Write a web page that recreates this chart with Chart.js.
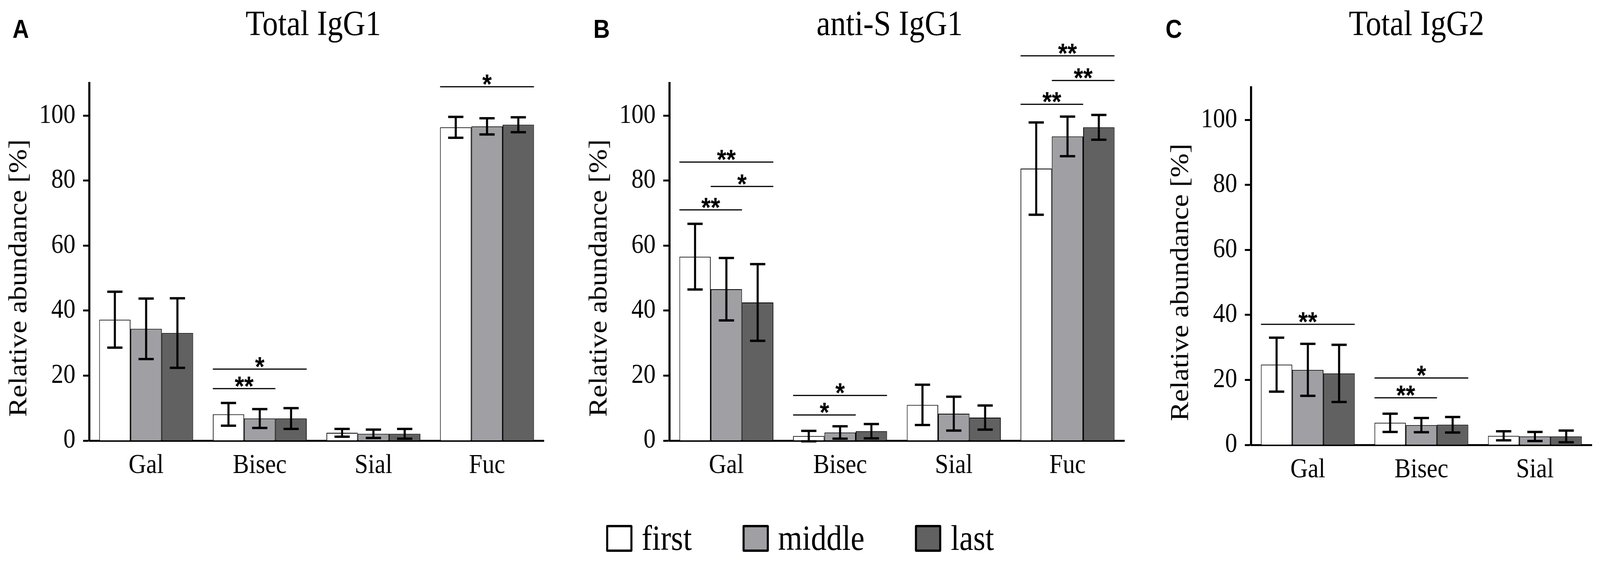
<!DOCTYPE html>
<html lang="en">
<head>
<meta charset="UTF-8">
<title>IgG Fc glycosylation – first / middle / last sample</title>
<style>
  *, *::before, *::after { box-sizing: border-box; margin: 0; padding: 0; }
  html, body { background: #fff; overflow: hidden; }
  #fig { width: 4622px; height: 1440px; position: absolute; left: 0; top: 0; transform-origin: 0 0;
         font-family: "Liberation Serif", "Times New Roman", serif; color: #000; }
  .letter { position: absolute; top: 41px; font: bold 66px/1 "Liberation Sans", Arial, sans-serif; }
  .ttl { position: absolute; top: 15px; font-size: 90px; line-height: 1; transform: translateX(-50%); white-space: nowrap; }
  canvas { position: absolute; top: 0; display: block; }
  .legend { position: absolute; top: 1334px; left: 0; width: 100%; height: 90px; display: flex;
            justify-content: center; align-items: center; font-size: 90px; line-height: 1; }
  .li { display: flex; align-items: center; gap: 27px; margin: 0 73px; }
  .sw { width: 76px; height: 69px; border: 6px solid #000; border-radius: 4px; }
</style>
</head>
<body>
<div id="fig">
  <div class="letter" style="left:36px">A</div>
  <div class="ttl" style="left:905px">Total IgG1</div>
  <canvas id="cA" width="1600" height="1290" style="left:0"></canvas>

  <div class="letter" style="left:1714px">B</div>
  <div class="ttl" style="left:2570px">anti-S IgG1</div>
  <canvas id="cB" width="1624" height="1290" style="left:1676px"></canvas>

  <div class="letter" style="left:3367px">C</div>
  <div class="ttl" style="left:4092px">Total IgG2</div>
  <canvas id="cC" width="1266" height="1301" style="left:3356px"></canvas>

  <div class="legend" id="legend"></div>
</div>

<script src="https://cdnjs.cloudflare.com/ajax/libs/Chart.js/4.4.1/chart.umd.js"></script>
<script>
const groups = ['first', 'middle', 'last'];
const fills  = ['#ffffff', '#a0a0a4', '#616161'];
const yTicks = [0, 20, 40, 60, 80, 100];
const yLabel = 'Relative abundance [%]';

const igg1Cats = ['Gal', 'Bisec', 'Sial', 'Fuc'];
const igg2Cats = ['Gal', 'Bisec', 'Sial'];

// mean and SD, one row per group (first, middle, last)
const totalG1Mean = [[37.2, 8.1, 2.4, 96.4], [34.4, 6.8, 2.1, 96.7], [33.1, 6.8, 2.1, 97.2]];
const totalG1Sd   = [[8.6, 3.5, 1.2, 3.2],   [9.3, 2.9, 1.3, 2.5],   [10.7, 3.2, 1.5, 2.3]];
const antiSMean   = [[56.6, 1.4, 11.0, 83.7], [46.6, 2.5, 8.3, 93.6], [42.5, 2.9, 7.1, 96.4]];
const antiSSd     = [[10.1, 1.6, 6.2, 14.2],  [9.6, 1.9, 5.2, 6.1],   [11.8, 2.2, 3.7, 3.8]];
const totalG2Mean = [[24.7, 6.8, 2.8], [23.1, 6.1, 2.6], [22.0, 6.2, 2.6]];
const totalG2Sd   = [[8.3, 2.8, 1.4],  [8.0, 2.2, 1.4],  [8.8, 2.4, 1.8]];

// significance bars: [category, from group, to group, height %, stars]
const totalG1Sig = [[1, 0, 1, 16.0, '**'], [1, 0, 2, 22.0, '*'], [3, 0, 2, 108.9, '*']];
const antiSSig   = [[0, 0, 2, 85.7, '**'], [0, 1, 2, 78.2, '*'], [0, 0, 1, 71.0, '**'],
                    [1, 0, 2, 13.9, '*'],  [1, 0, 1, 7.9, '*'],
                    [3, 0, 2, 118.4, '**'], [3, 1, 2, 110.8, '**'], [3, 0, 1, 103.5, '**']];
const totalG2Sig = [[0, 0, 2, 37.1, '**'], [1, 0, 2, 20.6, '*'], [1, 0, 1, 14.5, '**']];

// the figure is laid out at 4622x1440; stretch it onto the actual viewport
document.getElementById('fig').style.transform = `scale(${innerWidth / 4622}, ${innerHeight / 1440})`;

const serif = "'Liberation Serif', 'Times New Roman', serif";
Chart.defaults.font.family = serif;
Chart.defaults.color = '#000';

const errorBars = {
  id: 'errorBars',
  afterDatasetsDraw(chart) {
    const {ctx, scales: {y}} = chart;
    ctx.save();
    ctx.strokeStyle = '#000';
    ctx.lineWidth = 6;
    chart.data.datasets.forEach((ds, i) => {
      chart.getDatasetMeta(i).data.forEach((bar, j) => {
        const top = y.getPixelForValue(ds.data[j] + ds.sd[j]);
        const bot = y.getPixelForValue(ds.data[j] - ds.sd[j]);
        ctx.beginPath();
        ctx.moveTo(bar.x, top); ctx.lineTo(bar.x, bot);
        ctx.moveTo(bar.x - 22, top); ctx.lineTo(bar.x + 22, top);
        ctx.moveTo(bar.x - 22, bot); ctx.lineTo(bar.x + 22, bot);
        ctx.stroke();
      });
    });
    ctx.restore();
  }
};

const sigBars = {
  id: 'sigBars',
  afterDraw(chart) {
    const {ctx, scales: {y}} = chart;
    ctx.save();
    ctx.strokeStyle = '#000';
    ctx.fillStyle = '#000';
    ctx.lineWidth = 3;
    ctx.font = "bold 70px 'Liberation Sans', Arial, sans-serif";
    ctx.textAlign = 'center';
    ctx.textBaseline = 'alphabetic';
    chart.options.plugins.sigBars.rows.forEach(([c, a, b, v, txt]) => {
      const ba = chart.getDatasetMeta(a).data[c], bb = chart.getDatasetMeta(b).data[c];
      const x1 = ba.x - ba.width / 2, x2 = bb.x + bb.width / 2, py = y.getPixelForValue(v);
      ctx.beginPath(); ctx.moveTo(x1, py); ctx.lineTo(x2, py); ctx.stroke();
      ctx.fillText(txt, (x1 + x2) / 2, py + 18);
    });
    ctx.restore();
  }
};

// axis title centred on the 0-100 range rather than on the whole (0-110) axis
const yTitle = {
  id: 'yTitle',
  afterDraw(chart) {
    const {ctx, chartArea, scales: {y}} = chart;
    ctx.save();
    ctx.translate(chartArea.left - 201, y.getPixelForValue(50));
    ctx.rotate(-Math.PI / 2);
    ctx.font = "74px 'Liberation Serif', 'Times New Roman', serif";
    ctx.fillStyle = '#000';
    ctx.textAlign = 'center';
    ctx.textBaseline = 'middle';
    ctx.fillText(yLabel, 0, 0);
    ctx.restore();
  }
};

function panel(id, cats, means, sds, sig, padTop, padRight) {
  return new Chart(document.getElementById(id), {
    type: 'bar',
    data: {
      labels: cats,
      datasets: groups.map((g, i) => ({
        label: g,
        data: means[i],
        sd: sds[i],
        backgroundColor: fills[i],
        borderColor: '#000',
        borderWidth: 2,
        categoryPercentage: 0.826,
        barPercentage: 1.0
      }))
    },
    options: {
      responsive: false, animation: false,
      layout: {padding: {top: padTop, right: padRight, left: 0, bottom: 0}},
      plugins: {legend: {display: false}, tooltip: {enabled: false}, sigBars: {rows: sig}},
      scales: {
        x: {
          grid: {display: false, drawTicks: false},
          border: {color: '#000', width: 5},
          ticks: {font: {family: serif, size: 70}, color: '#000', padding: 23, autoSkip: false, maxRotation: 0},
          afterFit: s => { s.height = 161; }
        },
        y: {
          min: 0, max: 110,
          grid: {drawOnChartArea: false, tickLength: 18, tickColor: '#000', tickWidth: 5},
          border: {color: '#000', width: 6},
          ticks: {font: {family: serif, size: 70}, color: '#000', padding: 22},
          afterBuildTicks: s => { s.ticks = yTicks.map(v => ({value: v})); },
          afterFit: s => { s.width = 258; }
        }
      }
    },
    plugins: [errorBars, sigBars, yTitle]
  });
}

panel('cA', igg1Cats, totalG1Mean, totalG1Sd, totalG1Sig, 213, 29);
panel('cB', igg1Cats, antiSMean, antiSSd, antiSSig, 213, 52);
panel('cC', igg2Cats, totalG2Mean, totalG2Sd, totalG2Sig, 224, 24);

const legend = document.getElementById('legend');
groups.forEach((g, i) => {
  const el = document.createElement('div');
  el.className = 'li';
  el.innerHTML = `<span class="sw" style="background:${fills[i]}"></span><span>${g}</span>`;
  legend.appendChild(el);
});
</script>
</body>
</html>
